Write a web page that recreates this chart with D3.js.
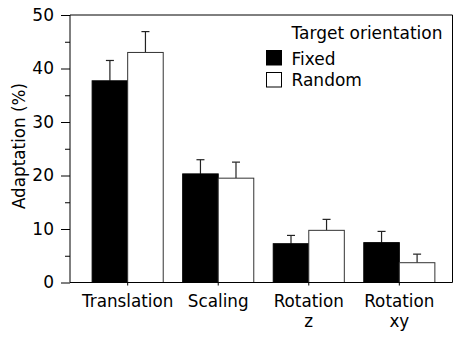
<!DOCTYPE html>
<html>
<head>
<meta charset="utf-8">
<script src="https://cdn.jsdelivr.net/npm/d3@7"></script>
<style>
  html, body { margin: 0; padding: 0; background: #fff; }
  svg { display: block; font-family: "DejaVu Sans", Verdana, sans-serif; }
</style>
</head>
<body>
<svg id="chart" width="454" height="340"></svg>
<script>
// Adaptation per transformation type, for fixed vs. random target orientation
const categories = [["Translation"], ["Scaling"], ["Rotation", "z"], ["Rotation", "xy"]];
const seriesNames = ["Fixed", "Random"];
const fixedMean = [37.7, 20.3, 7.25, 7.45];
const fixedErr = [3.8, 2.65, 1.55, 2.1];
const randomMean = [43.0, 19.5, 9.75, 3.7];
const randomErr = [3.9, 3.0, 2.05, 1.6];
const yTicks = [0, 10, 20, 30, 40, 50];
const yMinorTicks = [5, 15, 25, 35, 45];

const svg = d3.select("#chart");
const plot = { left: 70, right: 452.5, top: 15, bottom: 282.5 };

const y = d3.scaleLinear().domain([0, 50]).range([plot.bottom, plot.top]);
const x = d3.scaleBand()
  .domain(d3.range(categories.length))
  .range([82.4, 444.6])
  .paddingInner(0.215)
  .paddingOuter(0.1075);
const xSub = d3.scaleBand().domain(seriesNames).range([0, x.bandwidth()]);

const fills = { Fixed: "#000", Random: "#fff" };
const rows = [];
categories.forEach((c, i) => {
  rows.push({ i, s: "Fixed", v: fixedMean[i], e: fixedErr[i] });
  rows.push({ i, s: "Random", v: randomMean[i], e: randomErr[i] });
});

// frame (top and right edges)
svg.append("path")
  .attr("d", `M${plot.left},${plot.top}H${plot.right}V${plot.bottom}`)
  .attr("fill", "none").attr("stroke", "#000").attr("stroke-width", 1);

// error bars (upper half only)
const eb = svg.append("g").attr("stroke", "#222").attr("stroke-width", 1.2).attr("fill", "none");
rows.forEach(d => {
  const cx = x(d.i) + xSub(d.s) + xSub.bandwidth() / 2;
  eb.append("line").attr("x1", cx).attr("x2", cx).attr("y1", y(d.v)).attr("y2", y(d.v + d.e));
  eb.append("line").attr("x1", cx - 4).attr("x2", cx + 4).attr("y1", y(d.v + d.e)).attr("y2", y(d.v + d.e));
});

// bars
svg.append("g").selectAll("rect").data(rows).join("rect")
  .attr("x", d => x(d.i) + xSub(d.s))
  .attr("width", xSub.bandwidth())
  .attr("y", d => y(d.v))
  .attr("height", d => y(0) - y(d.v))
  .attr("fill", d => fills[d.s])
  .attr("stroke", d => d.s === "Fixed" ? "#000" : "#333")
  .attr("stroke-width", 1);

// y axis with major and minor ticks
const yAxis = svg.append("g").attr("transform", `translate(${plot.left},0)`)
  .call(d3.axisLeft(y).tickValues(yTicks).tickSize(9).tickPadding(7).tickFormat(d3.format("d")));
yAxis.call(g => g.select(".domain").remove());
yAxis.selectAll("text").attr("font-size", 17).attr("fill", "#000").attr("font-family", "DejaVu Sans");
svg.append("g").attr("transform", `translate(${plot.left},0)`)
  .call(d3.axisLeft(y).tickValues(yMinorTicks).tickSize(5).tickFormat(""))
  .call(g => g.select(".domain").remove());
svg.append("line").attr("x1", plot.left).attr("x2", plot.left)
  .attr("y1", plot.top).attr("y2", plot.bottom).attr("stroke", "#000");

// x axis
const xAxis = svg.append("g").attr("transform", `translate(0,${plot.bottom})`)
  .call(d3.axisBottom(x).tickSize(3).tickFormat(""));
xAxis.select(".domain").remove();
svg.append("line").attr("x1", plot.left).attr("x2", plot.right)
  .attr("y1", plot.bottom).attr("y2", plot.bottom).attr("stroke", "#000");

// category labels
const lbl = svg.append("g").attr("font-size", 16.8).attr("text-anchor", "middle").attr("fill", "#000");
categories.forEach((lines, i) => {
  const t = lbl.append("text").attr("x", x(i) + x.bandwidth() / 2).attr("y", 306.5);
  lines.forEach((s, k) => t.append("tspan").attr("x", x(i) + x.bandwidth() / 2).attr("dy", k ? 20 : 0).text(s));
});

// y title
svg.append("text")
  .attr("transform", `translate(25,146) rotate(-90)`)
  .attr("text-anchor", "middle").attr("font-size", 16.8).attr("fill", "#000")
  .text("Adaptation (%)");

// legend
const lg = svg.append("g").attr("font-size", 17).attr("fill", "#000");
lg.append("text").attr("x", 291.5).attr("y", 39).text("Target orientation");
seriesNames.forEach((s, k) => {
  lg.append("rect").attr("x", 266.5).attr("y", 50.5 + k * 22).attr("width", 15).attr("height", 14.5)
    .attr("fill", fills[s]).attr("stroke", "#000").attr("stroke-width", 1);
  lg.append("text").attr("x", 291.5).attr("y", 65 + k * 21).text(s);
});
</script>
</body>
</html>
